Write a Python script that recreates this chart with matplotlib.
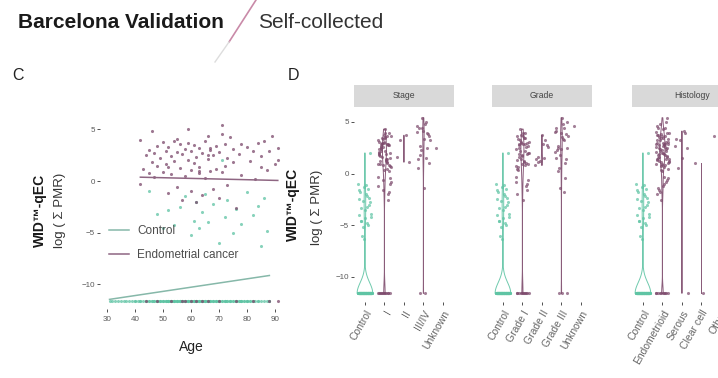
import numpy as np
import matplotlib
matplotlib.use("Agg")
import matplotlib.pyplot as plt
from matplotlib.lines import Line2D
from matplotlib.patches import Rectangle

plt.rcParams['font.family'] = ['Liberation Sans', 'DejaVu Sans']

FLOOR = -11.6

# cancer samples (panel C and D)
cancer_age = [42, 42, 43, 44, 45, 45, 46, 46, 47, 47, 48, 48, 49, 50, 50, 51, 51, 52, 52, 52,
              53, 53, 54, 54, 55, 55, 55, 56, 56, 57, 57, 58, 58, 59, 59, 59, 60, 60, 60, 61,
              61, 62, 62, 63, 63, 63, 63, 64, 64, 65, 65, 66, 66, 66, 67, 67, 67, 68, 68, 69,
              69, 70, 70, 71, 71, 71, 72, 72, 73, 73, 74, 75, 75, 76, 77, 78, 78, 80, 81, 82,
              83, 84, 85, 85, 86, 87, 88, 89, 90, 91, 91,
              44, 48, 53, 57, 60, 62, 64, 66, 58, 70, 76, 82, 88, 91]
cancer_val = [4.0, -0.3, 1.2, 2.5, 0.8, 3.0, 1.8, 4.8, 2.7, 0.4, 3.4, 1.5, 2.2, 3.8, 0.9, 2.9, 1.6, 3.3, -1.2, 1.4,
              2.4, 0.7, 3.9, 1.9, 2.8, 4.1, -0.6, 3.6, 1.3, 2.6, -1.8, 3.1, 0.5, 2.0, 3.7, 5.0, 1.1, 2.9, -1.0, 3.5,
              1.7, 2.3, -2.0, 0.8, 3.2, 1.4, 1.0, 2.7, -1.4, 3.9, 0.3, 2.1, 4.4, 2.5, 1.0, 3.0, 3.2, -0.8, 2.5, 3.4,
              1.2, 2.8, -1.6, 5.4, 0.9, 4.6, 3.6, 1.5, 2.2, -0.4, 4.3, 1.8, 3.1, -2.6, 2.6, 0.6, 3.6, 3.3, 1.9, 2.9,
              0.2, 3.7, 1.4, 2.4, 3.9, 1.1, 2.9, 4.4, 1.6, 3.2, 2.0,
              FLOOR, FLOOR, FLOOR, FLOOR, FLOOR, FLOOR, FLOOR, FLOOR, FLOOR, FLOOR, FLOOR, FLOOR, FLOOR, FLOOR]
# 1=I 2=II 3=III/IV 4=Unknown
cancer_stage = [3, 1, 1, 1, 1, 1, 1, 3, 3, 1, 1, 1, 1, 3, 1, 1, 2, 1, 1, 1,
                1, 1, 1, 1, 1, 3, 1, 1, 1, 1, 1, 1, 3, 1, 2, 3, 1, 1, 1, 1,
                1, 3, 1, 1, 1, 1, 3, 1, 3, 1, 1, 1, 3, 4, 1, 1, 2, 1, 3, 1,
                1, 1, 1, 3, 1, 3, 1, 3, 1, 1, 1, 3, 1, 1, 1, 1, 3, 3, 1, 1,
                1, 1, 3, 1, 3, 2, 1, 3, 1, 3, 1,
                1, 1, 1, 1, 1, 1, 1, 3, 3, 1, 1, 1, 1, 1]
# 1=Grade I 2=Grade II 3=Grade III 4=Unknown
cancer_grade = [3, 1, 1, 1, 2, 1, 1, 3, 3, 1, 1, 2, 1, 3, 1, 1, 2, 1, 1, 1,
                3, 1, 1, 1, 2, 3, 1, 1, 1, 1, 3, 1, 3, 1, 2, 3, 1, 1, 1, 3,
                1, 3, 1, 1, 1, 2, 3, 1, 3, 1, 1, 3, 3, 3, 1, 1, 2, 1, 3, 1,
                2, 1, 1, 3, 1, 4, 1, 3, 1, 3, 1, 3, 1, 1, 2, 1, 3, 3, 1, 2,
                3, 1, 3, 1, 3, 2, 1, 3, 1, 3, 1,
                1, 1, 1, 1, 1, 1, 1, 3, 3, 1, 3, 1, 1, 1]
# 1=Endometrioid 2=Serous 3=Clear cell 4=Other 5=Unknown
cancer_hist = [1, 1, 1, 1, 1, 1, 1, 1, 2, 1, 1, 1, 1, 1, 1, 1, 1, 1, 1, 1,
               1, 1, 1, 1, 1, 2, 1, 1, 1, 1, 1, 1, 2, 1, 1, 1, 1, 1, 1, 1,
               1, 1, 1, 1, 1, 1, 3, 1, 1, 1, 1, 1, 1, 1, 1, 1, 1, 1, 2, 1,
               1, 1, 1, 1, 1, 1, 1, 2, 1, 1, 1, 1, 1, 1, 1, 1, 4, 2, 1, 1,
               1, 1, 1, 1, 2, 1, 1, 1, 1, 2, 1,
               1, 1, 1, 1, 1, 1, 1, 1, 3, 4, 2, 1, 1, 5]

# control samples
control_age = [45, 48, 50, 52, 54, 56, 58, 60, 61, 62, 63, 64, 65, 66, 68, 70, 71, 72, 73, 75,
               76, 78, 80, 82, 84, 85, 86, 87]
control_val = [-1.0, -3.2, -4.6, -2.8, -4.3, -2.5, -1.5, -5.2, -3.9, -2.0, -4.6, -3.0, -1.3, -4.0,
               -2.2, -6.0, 2.0, -3.5, -1.8, -5.0, -2.7, -4.2, -1.1, -3.3, -2.4, -6.3, -1.6, -4.8]
control_floor_age = [31, 32, 33, 34, 35, 36, 37, 38, 39, 40, 40, 41, 42, 42, 43, 44, 44, 45, 45, 46,
                     46, 47, 47, 48, 48, 48, 49, 49, 49, 50, 50, 50, 51, 51, 51, 52, 52, 52, 52, 53,
                     53, 53, 53, 54, 54, 54, 54, 55, 55, 55, 55, 56, 56, 56, 56, 57, 57, 57, 57, 58,
                     58, 58, 58, 59, 59, 59, 59, 60, 60, 60, 60, 61, 61, 61, 61, 62, 62, 62, 62, 63,
                     63, 63, 63, 64, 64, 64, 64, 65, 65, 65, 65, 66, 66, 66, 67, 67, 67, 68, 68, 68,
                     69, 69, 69, 70, 70, 70, 71, 71, 72, 72, 72, 73, 73, 74, 74, 74, 75, 75, 76, 76,
                     76, 77, 77, 78, 78, 78, 79, 79, 80, 80, 80, 81, 81, 82, 82, 83, 84, 84, 85, 86,
                     87, 88, 88]

stage_labels = ['Control', 'I', 'II', 'III/IV', 'Unknown']
grade_labels = ['Control', 'Grade I', 'Grade II', 'Grade III', 'Unknown']
hist_labels = ['Control', 'Endometrioid', 'Serous', 'Clear cell', 'Other', 'Unknown']

COL_CTRL = '#5fc4a4'
COL_EC = '#7d4a6c'
TICK_COL = '#595959'

c_age = np.array(cancer_age, float)
c_val = np.array(cancer_val, float)
k_age = np.array(control_age + control_floor_age, float)
k_val = np.array(control_val + [FLOOR] * len(control_floor_age), float)

W, H = 718, 378
fig = plt.figure(figsize=(W / 100, H / 100), dpi=100)


def px_axes(left, top, right, bottom):
    return fig.add_axes([left / W, 1 - bottom / H, (right - left) / W, (bottom - top) / H])


def style(ax):
    for s in ax.spines.values():
        s.set_visible(False)
    ax.tick_params(length=2, width=0.6, color='#333333', labelsize=5.8,
                   labelcolor=TICK_COL, pad=1.5)


# header
fig.text(18 / W, 1 - 23 / H, 'Barcelona Validation', fontsize=15, weight='bold',
         va='center', color='#1a1a1a')
fig.text(258 / W, 1 - 23 / H, 'Self-collected', fontsize=15, va='center', color='#333333')
fig.add_artist(Line2D([256 / W, 229 / W], [1.0, 1 - 42 / H], color='#c98aa8', lw=1.2))
fig.add_artist(Line2D([229 / W, 215 / W], [1 - 42 / H, 1 - 62 / H], color='#dddddd', lw=1.0))
fig.text(12 / W, 1 - 76 / H, 'C', fontsize=11.5, va='center', color='#222222')
fig.text(288 / W, 1 - 76 / H, 'D', fontsize=11.5, va='center', color='#222222')

# ---- panel C ----
axc = px_axes(99.7, 117, 283.4, 309)
style(axc)
axc.tick_params(axis='x', pad=3)
axc.scatter(k_age, k_val, s=5, color=COL_CTRL, alpha=0.75, lw=0)
axc.scatter(c_age, c_val, s=5, color=COL_EC, alpha=0.75, lw=0)
for a, v, col in [(k_age, k_val, '#86b8a9'), (c_age, c_val, '#8e6682')]:
    coef = np.polyfit(a, v, 1)
    xs = np.array([a.min(), a.max()])
    axc.plot(xs, np.polyval(coef, xs), color=col, lw=1.1)
axc.set_xlim(27.5, 93)
axc.set_ylim(-12.4, 6.2)
axc.set_xticks([30, 40, 50, 60, 70, 80, 90])
axc.set_yticks([5, 0, -5, -10])
axc.set_xlabel('Age', fontsize=10, color='#222222', labelpad=12)
handles = [Line2D([], [], color='#86b8a9', lw=1.1), Line2D([], [], color='#8e6682', lw=1.1)]
axc.legend(handles, ['Control', 'Endometrial cancer'], loc='upper left',
           bbox_to_anchor=(103 / W, 1 - 219 / H), bbox_transform=fig.transFigure,
           frameon=False, fontsize=8.5, handlelength=1.7, handletextpad=0.7,
           labelspacing=1.0, borderpad=0, labelcolor='#4d4d4d')
fig.text(40 / W, 1 - 210 / H, 'WID\u2122-qEC', rotation=90, fontsize=10, weight='bold',
         ha='center', va='center', color='#1a1a1a')
fig.text(60 / W, 1 - 210 / H, 'log ( \u03a3 PMR)', rotation=90, fontsize=9.5,
         ha='center', va='center', color='#333333')


# ---- panel D ----
def nrd0(x):
    sd = np.std(x, ddof=1)
    q75, q25 = np.percentile(x, [75, 25])
    lo = min(sd, (q75 - q25) / 1.34)
    if lo == 0:
        lo = sd if sd > 0 else (abs(x[0]) if x[0] != 0 else 1.0)
    return 0.9 * lo * len(x) ** -0.2


def facet(left, labels, codes, title, show_y):
    n = len(labels)
    step = 19.5
    axd = px_axes(left, 109.5, left + (n - 1 + 1.12) * step, 301.6)
    style(axd)
    groups = [k_val] + [c_val[np.array(codes) == i] for i in range(1, n)]
    cols = [COL_CTRL] + [COL_EC] * (n - 1)
    dens = []
    for g in groups:
        if len(g) < 2:
            dens.append(None)
            continue
        bw = nrd0(g)
        grid = np.linspace(g.min(), g.max(), 400)
        d = np.exp(-0.5 * ((grid[:, None] - g[None, :]) / bw) ** 2).sum(1) / (len(g) * bw * np.sqrt(2 * np.pi))
        dens.append((grid, d * len(g)))  # count-scaled width
    dmax = max(item[1].max() for item in dens if item is not None)
    for i, (g, col) in enumerate(zip(groups, cols)):
        if dens[i] is not None:
            grid, d = dens[i]
            w = d / dmax * 0.4
            axd.fill_betweenx(grid, i - w, i + w, facecolor='none', edgecolor=col, lw=0.7, alpha=0.9)
        jit = ((np.arange(len(g)) * 0.6180339887) % 1 - 0.5) * 0.7
        axd.scatter(i + jit, g, s=5, color=col, alpha=0.7, lw=0, zorder=3)
    axd.set_xlim(-0.56, n - 1 + 0.56)
    axd.set_ylim(-12.4, 6.2)
    axd.set_xticks(range(n))
    axd.set_xticklabels(labels, rotation=60, ha='right', va='top', rotation_mode='anchor',
                        fontsize=7.5, color='#666666')
    axd.tick_params(axis='x', pad=3)
    axd.set_yticks([5, 0, -5, -10])
    if not show_y:
        axd.tick_params(axis='y', left=False, labelleft=False)
    axd.add_patch(Rectangle((0, 1 + 2.5 / 192), 1, 22 / 192, transform=axd.transAxes,
                            clip_on=False, facecolor='#d9d9d9', edgecolor='none'))
    axd.text(0.5, 1 + 13.5 / 192, title, transform=axd.transAxes, ha='center', va='center',
             fontsize=6.2, color='#444444')
    return axd


facet(354, stage_labels, cancer_stage, 'Stage', True)
facet(492, grade_labels, cancer_grade, 'Grade', False)
facet(632, hist_labels, cancer_hist, 'Histology', False)

fig.text(293 / W, 1 - 204 / H, 'WID\u2122-qEC', rotation=90, fontsize=10, weight='bold',
         ha='center', va='center', color='#1a1a1a')
fig.text(317 / W, 1 - 207 / H, 'log ( \u03a3 PMR)', rotation=90, fontsize=9.5,
         ha='center', va='center', color='#333333')

fig.savefig('out.png', dpi=100)
